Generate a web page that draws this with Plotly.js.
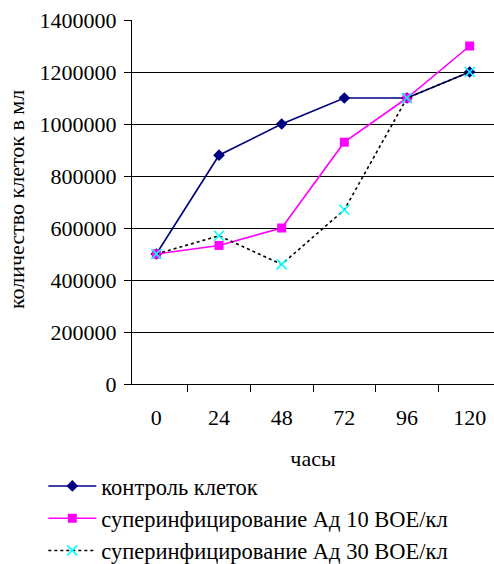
<!DOCTYPE html>
<html>
<head>
<meta charset="utf-8">
<script src="https://cdn.plot.ly/plotly-3.0.1.min.js"></script>
<style>html,body{margin:0;padding:0;background:#fff;}#chart{width:494px;height:564px;}</style>
</head>
<body>
<div id="chart"></div>
<script>
const hours = ['0', '24', '48', '72', '96', '120'];
const controlCells = [500000, 880000, 1000000, 1100000, 1100000, 1200000];
const superAd10 = [500000, 533000, 600000, 930000, 1100000, 1300000];
const superAd30 = [500000, 570000, 460000, 670000, 1100000, 1200000];
const seriesNames = ['контроль клеток', 'суперинфицирование Ад 10 ВОЕ/кл', 'суперинфицирование Ад 30 ВОЕ/кл'];
const yTicks = [0, 200000, 400000, 600000, 800000, 1000000, 1200000, 1400000];

const font = {family: 'Liberation Serif, Times New Roman, serif', size: 22, color: '#000'};
const legendFont = {family: 'Liberation Serif, Times New Roman, serif', size: 22.5, color: '#000'};

const traces = [
  {x: hours, y: controlCells, name: seriesNames[0], type: 'scatter', mode: 'lines+markers',
   line: {color: '#000080', width: 1.6}, marker: {symbol: 'diamond', size: 9, color: '#000080'}, legendgroup: 'a'},
  {x: hours, y: superAd10, name: seriesNames[1], type: 'scatter', mode: 'lines+markers',
   line: {color: '#FF00FF', width: 1.6}, marker: {symbol: 'square', size: 9, color: '#FF00FF'}, legendgroup: 'b'},
  {x: hours, y: superAd30, name: seriesNames[2], type: 'scatter', mode: 'lines+markers',
   line: {color: '#000000', width: 1.6, dash: 'dot'}, marker: {symbol: 'x-thin-open', size: 10, color: '#00FFFF', line: {color: '#00FFFF', width: 1.6}}, legendgroup: 'c'}
];

const layout = {
  width: 494, height: 564,
  margin: {l: 132, r: 0, t: 20, b: 180, autoexpand: false},
  paper_bgcolor: '#fff', plot_bgcolor: '#fff',
  font: font,
  showlegend: true,
  xaxis: {
    type: 'category', categoryarray: hours,
    tickson: 'boundaries', ticks: 'outside', ticklen: 7, tickcolor: '#000', tickwidth: 1,
    showgrid: false, showline: true, linecolor: '#000', linewidth: 1, zeroline: false,
    tickfont: font, automargin: false, ticklabelstandoff: 14,
    title: {text: 'часы', font: font, standoff: 21}
  },
  yaxis: {
    range: [0, 1400000], tickvals: yTicks, ticktext: yTicks.map(String),
    ticks: 'outside', ticklen: 7, tickcolor: '#000', tickwidth: 1,
    showgrid: true, gridcolor: '#000', gridwidth: 1,
    showline: true, linecolor: '#000', linewidth: 1, zeroline: false,
    tickfont: font, automargin: false, ticklabelstandoff: 3
  },
  annotations: [{
    text: 'количество клеток в мл', textangle: -90, showarrow: false,
    xref: 'paper', yref: 'paper', x: (16 - 132) / 362, y: (384 - 200) / 364,
    xanchor: 'center', yanchor: 'middle', font: font
  }],
  legend: {
    x: -0.245, xanchor: 'left', y: -0.222, yanchor: 'top',
    font: legendFont, bgcolor: 'rgba(0,0,0,0)', borderwidth: 0,
    traceorder: 'grouped', tracegroupgap: 0, itemwidth: 48
  }
};

Plotly.newPlot('chart', traces, layout, {displayModeBar: false, staticPlot: true});
</script>
</body>
</html>
